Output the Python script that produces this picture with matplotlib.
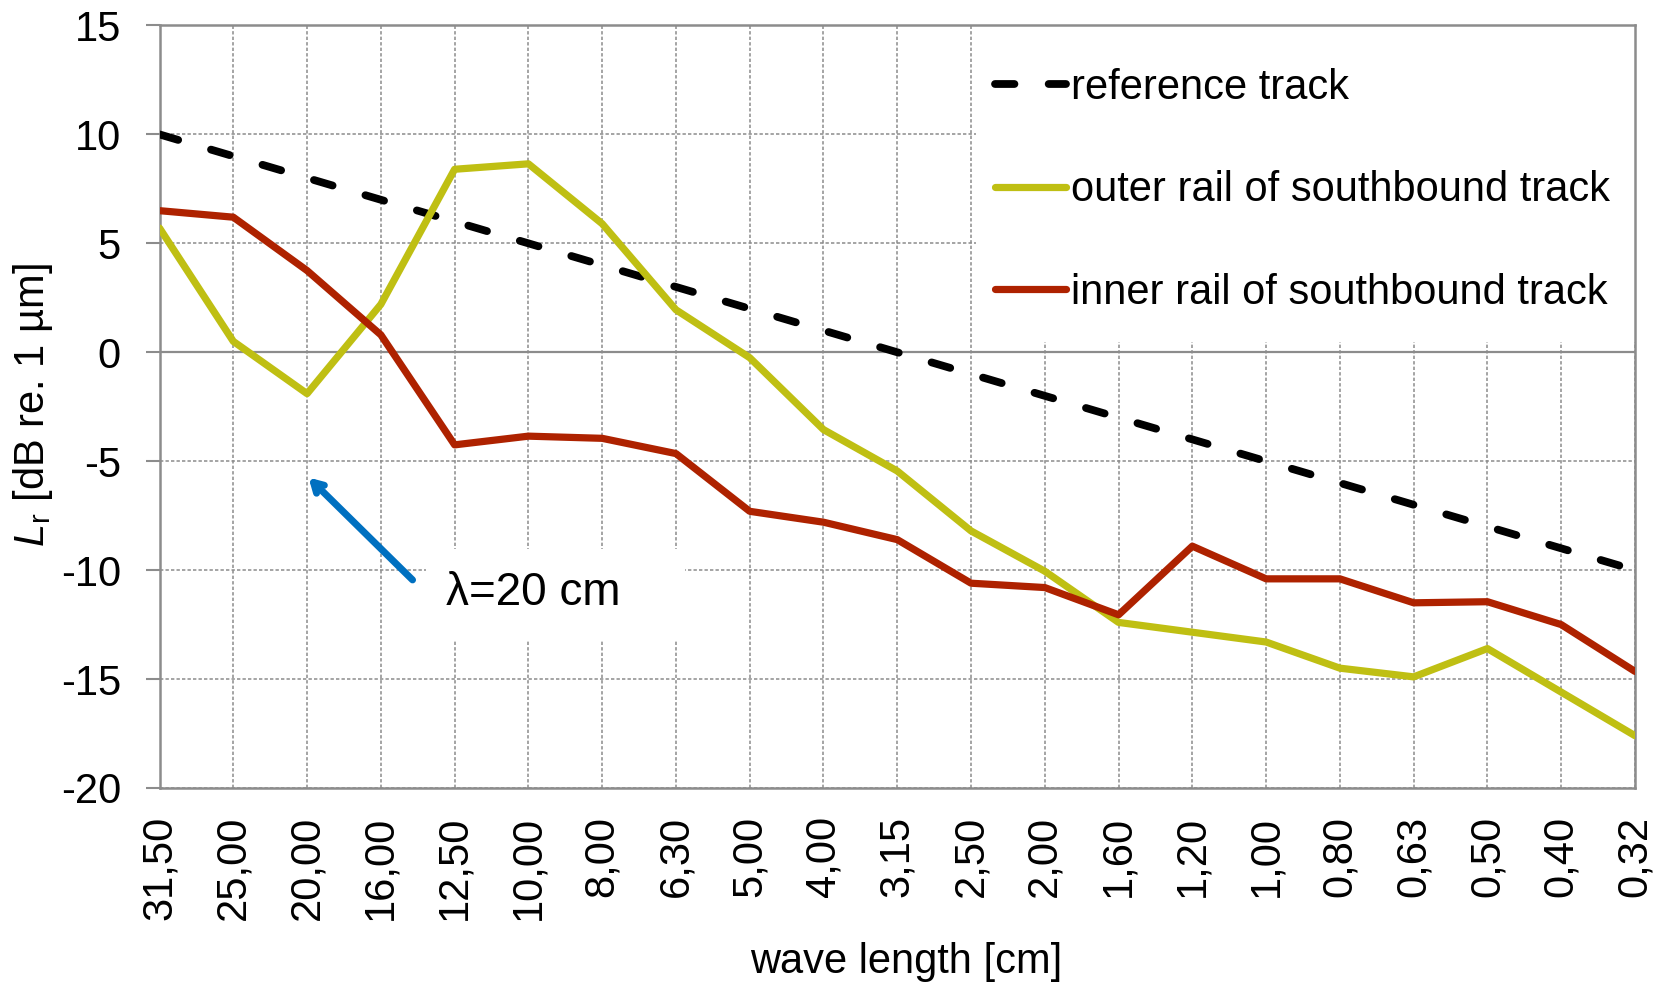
import matplotlib
matplotlib.use("Agg")
import matplotlib.pyplot as plt
from matplotlib.patches import Rectangle

plt.rcParams['font.family'] = ['Liberation Sans', 'DejaVu Sans']
plt.rcParams['mathtext.fontset'] = 'custom'
plt.rcParams['mathtext.rm'] = 'Liberation Sans'
plt.rcParams['mathtext.it'] = 'Liberation Sans:italic'

# --- DATA ---
wave_lengths = ['31,50', '25,00', '20,00', '16,00', '12,50', '10,00', '8,00', '6,30',
                '5,00', '4,00', '3,15', '2,50', '2,00', '1,60', '1,20', '1,00',
                '0,80', '0,63', '0,50', '0,40', '0,32']
reference_track = [10, 9, 8, 7, 6, 5, 4, 3, 2, 1, 0, -1, -2, -3, -4, -5,
                   -6, -7, -8, -9, -10]
outer_rail = [5.7, 0.5, -1.9, 2.2, 8.4, 8.65, 5.9, 1.95, -0.25, -3.55, -5.45,
              -8.2, -10.05, -12.4, -12.85, -13.3, -14.5, -14.9, -13.6, -15.6, -17.6]
inner_rail = [6.5, 6.2, 3.75, 0.8, -4.25, -3.85, -3.95, -4.65, -7.3, -7.8, -8.6,
              -10.6, -10.8, -12.05, -8.9, -10.4, -10.4, -11.5, -11.45, -12.5, -14.65]

x = list(range(len(wave_lengths)))
grey = '#8c8c8c'

fig = plt.figure(figsize=(16.67, 9.84), dpi=100)
ax = fig.add_axes([0.0957, 0.1992, 0.8851, 0.7749])
ax.set_axisbelow(True)

# --- GRID & AXES ---
ax.set_xlim(0, len(x) - 1)
ax.set_ylim(-20, 15)
ax.set_yticks(range(-20, 16, 5))
ax.set_yticklabels([str(v) for v in range(-20, 16, 5)])
ax.set_xticks(x)
ax.set_xticklabels(wave_lengths, rotation=90, va='top', ha='center')
ax.grid(True, color=grey, linestyle=(0, (2.2, 1.4)), linewidth=1.1)
ax.axhline(0, color=grey, linewidth=1.6, zorder=0.9)
for s in ax.spines.values():
    s.set_color(grey)
    s.set_linewidth(1.8)
ax.tick_params(axis='y', length=9.8, width=1.5, color=grey, pad=18, labelsize=30)
ax.tick_params(axis='x', length=0, pad=20, labelsize=30)

# white panel behind the legend
ax.add_patch(Rectangle((0.5534, 0.585), 0.4466, 0.415, transform=ax.transAxes,
                       facecolor='white', edgecolor='none', zorder=1))
# white panel behind the annotation text
ax.add_patch(Rectangle((0.1806, 0.194), 0.1755, 0.119, transform=ax.transAxes,
                       facecolor='white', edgecolor='none', zorder=1))

# --- LINES ---
ax.plot(x, reference_track, color='black', linewidth=5.6, linestyle=(0, (2.5, 4.4)),
        dash_capstyle='round', label='reference track', zorder=3)
ax.plot(x, outer_rail, color='#bfbf13', linewidth=5.2, solid_capstyle='round',
        label='outer rail of southbound track', zorder=3)
ax.plot(x, inner_rail, color='#ae2200', linewidth=5.2, solid_capstyle='round',
        label='inner rail of southbound track', zorder=3)

ax.legend(loc='upper left', bbox_to_anchor=(0.552, 0.972), frameon=False,
          fontsize=30, borderpad=0, handlelength=1.7, handletextpad=0.12,
          labelspacing=1.5)

# --- ANNOTATION ---
ax.annotate('', xy=(2.02, -5.75), xytext=(3.43, -10.45),
            arrowprops=dict(arrowstyle='->, head_length=0.7, head_width=0.4',
                            color='#0070c0', lw=5, capstyle='round',
                            joinstyle='round', shrinkA=0, shrinkB=0),
            zorder=4)
ax.text(0.194, 0.256, 'λ=20 cm', transform=ax.transAxes, fontsize=33,
        ha='left', va='center', zorder=4)

fig.text(0.5435, 0.0224, 'wave length [cm]', fontsize=30, ha='center', va='center')
fig.text(0.0195, 0.588, r'$L_\mathrm{r}$ [dB re. 1 µm]', fontsize=30,
         rotation=90, ha='center', va='center')

fig.savefig('out.png', dpi=100, facecolor='white')
